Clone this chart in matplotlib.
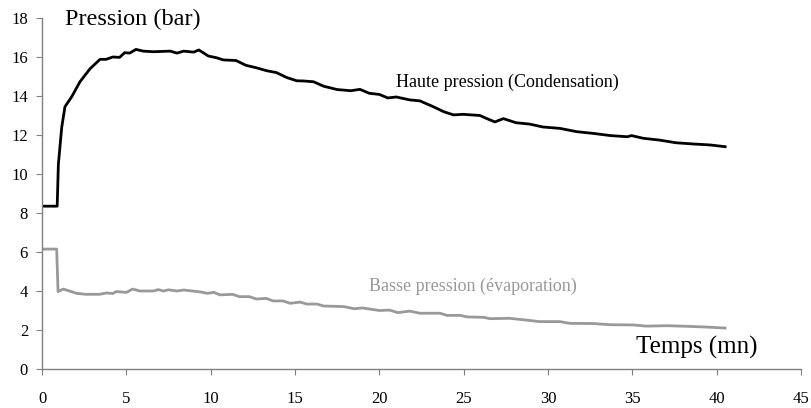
import numpy as np
import matplotlib.pyplot as plt

plt.rcParams['font.family'] = ['Liberation Serif', 'DejaVu Serif']

# Haute pression (condensation), bar
t_hp = [0, 0.9, 0.97, 1.17, 1.36, 1.76, 2.25, 2.85, 3.44, 3.8, 4.2, 4.6, 4.9, 5.2,
        5.57, 6.0, 6.6, 7.6, 8.0, 8.4, 9.0, 9.3, 9.86, 10.35, 10.75, 11.5, 12.1,
        12.7, 13.3, 13.9, 14.5, 15.1, 15.5, 16.1, 16.7, 17.5, 18.3, 18.85, 19.4,
        20.0, 20.5, 21.0, 21.8, 22.4, 23.2, 23.8, 24.4, 24.96, 25.96, 26.35, 26.85,
        27.35, 28.1, 28.9, 29.7, 30.7, 31.7, 32.7, 33.7, 34.7, 34.95, 35.65, 36.6,
        37.6, 38.6, 39.6, 40.5]
p_hp = [8.35, 8.35, 10.5, 12.4, 13.45, 13.96, 14.73, 15.4, 15.88, 15.88, 16.0, 15.98,
        16.22, 16.2, 16.39, 16.3, 16.27, 16.3, 16.2, 16.3, 16.25, 16.36, 16.05, 15.96,
        15.85, 15.82, 15.57, 15.45, 15.3, 15.2, 14.95, 14.78, 14.77, 14.73, 14.5,
        14.33, 14.27, 14.34, 14.14, 14.08, 13.9, 13.95, 13.8, 13.75, 13.45, 13.2,
        13.03, 13.06, 13.0, 12.85, 12.67, 12.84, 12.63, 12.56, 12.41, 12.34, 12.17,
        12.08, 11.97, 11.91, 11.97, 11.83, 11.74, 11.6, 11.54, 11.49, 11.4]

# Basse pression (evaporation), bar
t_bp = [0, 0.87, 0.95, 1.26, 2.05, 2.6, 3.4, 3.83, 4.2, 4.4, 5.0, 5.37, 5.8, 6.6, 6.9,
        7.2, 7.5, 8.0, 8.4, 9.4, 9.8, 10.2, 10.55, 11.3, 11.7, 12.3, 12.7, 13.3, 13.7,
        14.3, 14.7, 15.3, 15.7, 16.3, 16.7, 17.9, 18.5, 19.0, 20.0, 20.6, 21.1, 21.8,
        22.4, 23.6, 24.0, 24.8, 25.2, 26.2, 26.55, 27.7, 28.7, 29.5, 30.7, 31.3, 32.7,
        33.7, 35.05, 35.8, 37.1, 38.2, 39.4, 40.5]
p_bp = [6.15, 6.15, 3.97, 4.1, 3.88, 3.83, 3.83, 3.9, 3.87, 3.97, 3.93, 4.1, 4.0, 4.0,
        4.07, 4.0, 4.06, 4.0, 4.05, 3.95, 3.88, 3.93, 3.8, 3.83, 3.71, 3.71, 3.59, 3.62,
        3.49, 3.49, 3.37, 3.43, 3.33, 3.33, 3.23, 3.2, 3.09, 3.13, 3.0, 3.02, 2.89,
        2.97, 2.86, 2.86, 2.75, 2.75, 2.67, 2.65, 2.58, 2.6, 2.51, 2.43, 2.43, 2.34,
        2.33, 2.27, 2.26, 2.2, 2.22, 2.19, 2.15, 2.1]

fig = plt.figure(figsize=(8.11, 4.08), dpi=100)
ax = fig.add_axes([0.0518, 0.0956, 0.9359, 0.8603])

ax.plot(t_hp, p_hp, color='black', lw=2.0)
ax.plot(t_bp, p_bp, color='#999999', lw=2.0)

ax.set_xlim(0, 45)
ax.set_ylim(0, 18)
ax.set_xticks(np.arange(0, 46, 5))
ax.set_yticks(np.arange(0, 19, 2))

for s in ['top', 'right']:
    ax.spines[s].set_visible(False)
for s in ['left', 'bottom']:
    ax.spines[s].set_color('#808080')
    ax.spines[s].set_linewidth(1.0)
ax.tick_params(direction='out', length=4, color='#808080', labelsize=12)
ax.tick_params(axis='x', pad=12)
ax.tick_params(axis='y', pad=6)

ax.text(1.36, 17.9, 'Pression (bar)', fontsize=17.5, va='center', ha='left')
ax.text(42.4, 1.08, 'Temps (mn)', fontsize=18, va='center', ha='right')
ax.text(21.0, 14.7, 'Haute pression (Condensation)', fontsize=13, va='center', ha='left')
ax.text(19.4, 4.26, 'Basse pression (évaporation)', fontsize=13, va='center', ha='left',
        color='#999999')

fig.savefig('out.png', dpi=100)
